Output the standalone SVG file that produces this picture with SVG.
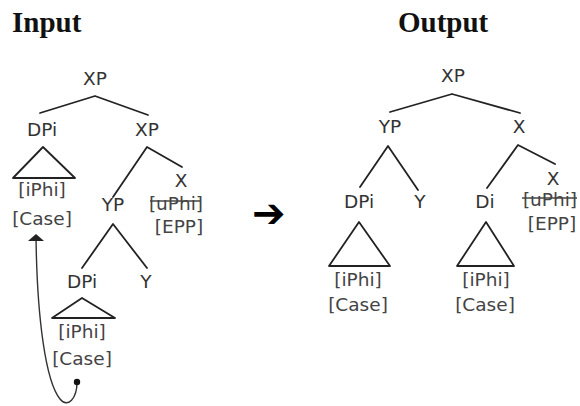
<svg xmlns="http://www.w3.org/2000/svg" width="580" height="406" viewBox="0 0 580 406">
<defs>
<style>
.title{font-family:"Liberation Serif",serif;font-weight:bold;font-size:29px;fill:#111}
.n{font-family:"DejaVu Sans",sans-serif;font-size:18.5px;fill:#333;text-anchor:middle}
.f{font-family:"DejaVu Sans",sans-serif;font-size:18.5px;fill:#444;text-anchor:middle}
.l{stroke:#222;stroke-width:1.8;fill:none;stroke-linecap:round;stroke-linejoin:round}
.s{stroke:#444;stroke-width:1.3}
.sym{font-family:"DejaVu Sans",sans-serif;font-size:40px;fill:#000}
</style>
</defs>
<rect width="580" height="406" fill="#fff"/>
<text class="title" x="12" y="32">Input</text>
<text class="title" x="398" y="32">Output</text>

<g id="connectors">
<!-- left tree -->
<path class="l" d="M40,113 L95,96 L148,115"/>
<path class="l" d="M113,197 L147,147 L182,167"/>
<path class="l" d="M82,268 L113,224 L147,268"/>
<!-- right tree -->
<path class="l" d="M390,112 L452,94 L520,113"/>
<path class="l" d="M360,187 L388,146 L418,190"/>
<path class="l" d="M487,188 L518,145 L555,164"/>
<!-- movement arrow -->
<path d="M77,382 C77,398 68,409 60,399 C46,382 37,320 36,236" fill="none" stroke="#333" stroke-width="1.4"/>
<path d="M28,241 L36,234 L44,241 Z" fill="#222"/>
<circle cx="77" cy="382" r="3.2" fill="#111"/>
</g>

<g id="left-xp"><text class="n" x="95" y="85">XP</text></g>
<g id="left-dpi">
<text class="n" x="42" y="136">DPi</text>
<path class="l" d="M43,147 L13,178 L75,178 Z"/>
<text class="f" x="42" y="196">[iPhi]</text>
<text class="f" x="42" y="225">[Case]</text>
</g>
<g id="left-xp2"><text class="n" x="147" y="136">XP</text></g>
<g id="left-x">
<text class="n" x="181" y="187">X</text>
<text class="f" x="176" y="210">[uPhi]</text>
<line class="s" x1="150" y1="201" x2="201" y2="201"/>
<text class="f" x="179" y="233">[EPP]</text>
</g>
<g id="left-yp"><text class="n" x="113" y="211">YP</text></g>
<g id="left-dpi2">
<text class="n" x="82" y="288">DPi</text>
<path class="l" d="M82,298 L52,318 L115,318 Z"/>
<text class="f" x="82" y="338">[iPhi]</text>
<text class="f" x="82" y="365">[Case]</text>
</g>
<g id="left-y"><text class="n" x="146" y="288">Y</text></g>

<g id="arrow"><text class="sym" x="252" y="227">➔</text></g>

<g id="right-xp"><text class="n" x="453" y="82">XP</text></g>
<g id="right-yp"><text class="n" x="390" y="133">YP</text></g>
<g id="right-x"><text class="n" x="519" y="133">X</text></g>
<g id="right-dpi">
<text class="n" x="359" y="208">DPi</text>
<path class="l" d="M359,222 L329,266 L390,266 Z"/>
<text class="f" x="358" y="286">[iPhi]</text>
<text class="f" x="358" y="311">[Case]</text>
</g>
<g id="right-y"><text class="n" x="420" y="208">Y</text></g>
<g id="right-di">
<text class="n" x="485" y="208">Di</text>
<path class="l" d="M486,222 L457,266 L514,266 Z"/>
<text class="f" x="486" y="286">[iPhi]</text>
<text class="f" x="485" y="311">[Case]</text>
</g>
<g id="right-x2">
<text class="n" x="553" y="185">X</text>
<text class="f" x="550" y="206">[uPhi]</text>
<line class="s" x1="522" y1="198" x2="577" y2="198"/>
<text class="f" x="552" y="230">[EPP]</text>
</g>
</svg>
